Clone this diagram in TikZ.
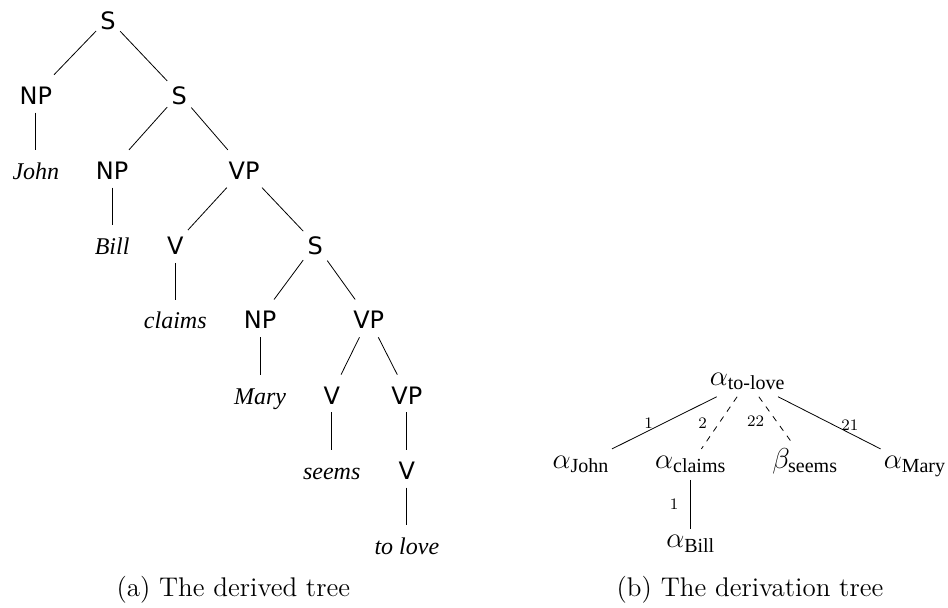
\documentclass[tikz,border=0pt]{standalone}
\usepackage{amsmath}
\usepackage{fontspec}
\newfontfamily\catfont{DejaVu Sans}
\newfontfamily\wordfont{Liberation Serif}
\newcommand{\lex}[1]{\text{\wordfont #1}}
\begin{document}
\begin{tikzpicture}[
	cat/.style={font=\catfont\fontsize{12}{14}\selectfont, anchor=base, inner sep=2pt, text height=12.5pt, text depth=2pt},
	word/.style={cat, font=\wordfont\itshape\fontsize{12}{14}\selectfont},
	deriv/.style={font=\Large, anchor=base, inner sep=3.3pt},
	lab/.style={font=\footnotesize, inner sep=1pt},
	capt/.style={font=\fontsize{13.5}{16}\selectfont, anchor=base}]
		\useasboundingbox (0,0) rectangle (16.66,10.67);
		%\draw[step=1cm,very thin,color=gray] (0,0) grid (16.66,10.67);
		% (a) derived tree
		\node[cat] (s0) at (1.90,10.16) {S};
		\node[cat] (np1) at (0.63,8.84) {NP};
		\node[cat] (s1) at (3.15,8.84) {S};
		\node[word] (john) at (0.63,7.52) {John};
		\node[cat] (np2) at (1.97,7.52) {NP};
		\node[cat] (vp1) at (4.29,7.52) {VP};
		\node[word] (bill) at (1.97,6.20) {Bill};
		\node[cat] (v1) at (3.08,6.20) {V};
		\node[cat] (s2) at (5.54,6.20) {S};
		\node[word] (claims) at (3.08,4.89) {claims};
		\node[cat] (np3) at (4.57,4.89) {NP};
		\node[cat] (vp2) at (6.48,4.89) {VP};
		\node[word] (mary) at (4.57,3.57) {Mary};
		\node[cat] (v2) at (5.83,3.57) {V};
		\node[cat] (vp3) at (7.15,3.57) {VP};
		\node[word] (seems) at (5.83,2.25) {seems};
		\node[cat] (v3) at (7.15,2.25) {V};
		\node[word] (tolove) at (7.15,0.93) {to love};
		\draw (s0) -- (np1);
		\draw (s0) -- (s1);
		\draw (np1) -- (john);
		\draw (s1) -- (np2);
		\draw (s1) -- (vp1);
		\draw (np2) -- (bill);
		\draw (vp1) -- (v1);
		\draw (vp1) -- (s2);
		\draw (v1) -- (claims);
		\draw (s2) -- (np3);
		\draw (s2) -- (vp2);
		\draw (np3) -- (mary);
		\draw (vp2) -- (v2);
		\draw (vp2) -- (vp3);
		\draw (v2) -- (seems);
		\draw (vp3) -- (v3);
		\draw (v3) -- (tolove);
		% (b) derivation tree
		\node[deriv] (atolove) at (13.14,3.90) {$\alpha_{\lex{to-love}}$};
		\node[deriv] (ajohn) at (10.21,2.44) {$\alpha_{\lex{John}}$};
		\node[deriv] (aclaims) at (12.14,2.44) {$\alpha_{\lex{claims}}$};
		\node[deriv] (bseems) at (14.15,2.44) {$\beta_{\lex{seems}}$};
		\node[deriv] (amary) at (16.08,2.44) {$\alpha_{\lex{Mary}}$};
		\node[deriv] (abill) at (12.14,1.04) {$\alpha_{\lex{Bill}}$};
		\draw (atolove) -- node[lab, pos=.65, above] {1} (ajohn);
		\draw[dashed] (atolove) -- node[lab, pos=.5, left=5pt] {2} (aclaims);
		\draw[dashed] (atolove) -- node[lab, pos=.55, left=5pt] {22} (bseems);
		\draw (atolove) -- node[lab, pos=.7, above] {21} (amary);
		\draw (aclaims) -- node[lab, pos=.5, left=5pt] {1} (abill);
		% captions
		\node[capt] (capa) at (4.10,0.19) {(a) The derived tree};
		\node[capt] (capb) at (13.18,0.19) {(b) The derivation tree};
\end{tikzpicture}
\end{document}
